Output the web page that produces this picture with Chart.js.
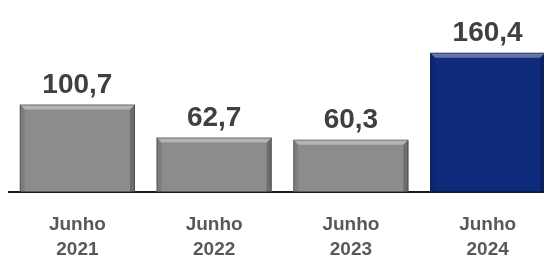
<!DOCTYPE html>
<html>
<head>
<meta charset="utf-8">
<script src="https://cdn.jsdelivr.net/npm/chart.js@4.4.1/dist/chart.umd.min.js"></script>
<style>
  html, body { margin: 0; padding: 0; background: #fff; overflow: hidden; }
  #wrap { width: 556px; height: 260px; position: relative; }
</style>
</head>
<body>
<div id="wrap"><canvas id="grafico"></canvas></div>
<script>
// Dados
const meses = [['Junho', '2021'], ['Junho', '2022'], ['Junho', '2023'], ['Junho', '2024']];
const valores = [100.7, 62.7, 60.3, 160.4];
const cores = ['#8c8c8c', '#8c8c8c', '#8c8c8c', '#0e2a7a'];

// Rótulos acima das barras
const rotulosPlugin = {
  id: 'rotulos',
  afterDatasetsDraw(chart) {
    const ctx = chart.ctx;
    const meta = chart.getDatasetMeta(0);
    ctx.save();
    ctx.font = 'bold 28px "Liberation Sans", Arial, sans-serif';
    ctx.fillStyle = '#404040';
    ctx.textAlign = 'center';
    ctx.textBaseline = 'alphabetic';
    meta.data.forEach((bar, i) => {
      ctx.fillText(valores[i].toFixed(1).replace('.', ','), bar.x, bar.y - 12);
    });
    ctx.restore();
  }
};

// Efeito de bisel nas barras
const biselPlugin = {
  id: 'bisel',
  afterDatasetsDraw(chart) {
    const ctx = chart.ctx;
    const meta = chart.getDatasetMeta(0);
    const b = 5;
    ctx.save();
    meta.data.forEach(bar => {
      const l = bar.x - bar.width / 2, r = bar.x + bar.width / 2;
      const t = bar.y, bt = bar.base;
      const poly = (pts, cor) => {
        ctx.beginPath();
        ctx.moveTo(pts[0][0], pts[0][1]);
        pts.slice(1).forEach(p => ctx.lineTo(p[0], p[1]));
        ctx.closePath();
        ctx.fillStyle = cor;
        ctx.fill();
      };
      poly([[l, t], [r, t], [r - b, t + b], [l + b, t + b]], 'rgba(255,255,255,0.35)');
      poly([[l, t], [l + b, t + b], [l + b, bt], [l, bt]], 'rgba(0,0,0,0.10)');
      poly([[r, t], [r - b, t + b], [r - b, bt], [r, bt]], 'rgba(0,0,0,0.22)');
      ctx.strokeStyle = 'rgba(0,0,0,0.35)';
      ctx.lineWidth = 1;
      ctx.strokeRect(l + 0.5, t + 0.5, r - l - 1, bt - t - 1);
    });
    ctx.restore();
  }
};

new Chart(document.getElementById('grafico'), {
  type: 'bar',
  data: {
    labels: meses,
    datasets: [{
      data: valores,
      backgroundColor: cores,
      borderWidth: 0,
      barPercentage: 0.842,
      categoryPercentage: 1
    }]
  },
  options: {
    responsive: true,
    maintainAspectRatio: false,
    animation: false,
    layout: { padding: { top: 18.4, left: 9, right: 0, bottom: 0 } },
    plugins: { legend: { display: false }, tooltip: { enabled: false } },
    scales: {
      y: { display: false, min: 0, max: 200 },
      x: {
        grid: { display: false },
        border: { display: true, color: '#1a1a1a', width: 2 },
        ticks: {
          color: '#595959',
          padding: 12,
          font: { family: '"Liberation Sans", Arial, sans-serif', size: 19, weight: 'bold', lineHeight: 1.32 }
        },
        afterFit: s => { s.height = 68; }
      }
    }
  },
  plugins: [biselPlugin, rotulosPlugin]
});
</script>
</body>
</html>
